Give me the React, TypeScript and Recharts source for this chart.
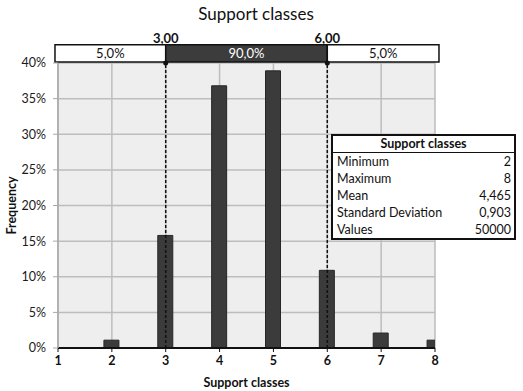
import React from 'react';
import {
  ComposedChart,
  Bar,
  XAxis,
  YAxis,
  CartesianGrid,
  ReferenceLine,
  ReferenceArea,
  ReferenceDot,
} from 'recharts';

// histogram of simulated support classes
const classes = [2, 3, 4, 5, 6, 7, 8];
const frequency = [1.1, 15.8, 36.8, 38.9, 10.9, 2.1, 1.1];

const xTicks = [1, 2, 3, 4, 5, 6, 7, 8];
const yTicks = [0, 5, 10, 15, 20, 25, 30, 35, 40];

// 90% interval markers
const lowerBound = 3;
const upperBound = 6;
const boundLabels = ['3,00', '6,00'];
const shareLabels = ['5,0%', '90,0%', '5,0%'];

// summary statistics
const statNames = ['Minimum', 'Maximum', 'Mean', 'Standard Deviation', 'Values'];
const statValues = ['2', '8', '4,465', '0,903', '50000'];

const data = classes.map((c, i) => ({ x: c, freq: frequency[i] }));

// band above the plot, in axis units
const BAND_LEFT = 0.944;
const BAND_RIGHT = 8.074;
const BAND_BOTTOM = 40.15;
const BAND_TOP = 42.55;
const BOUND_LABEL_Y = 43.5;

const FONT = 'Lato, "Open Sans", sans-serif';

const App: React.FC = () => {
  return (
    <div
      style={{
        position: 'absolute',
        left: 0,
        top: 0,
        width: 523,
        height: 391,
        background: '#fff',
        fontFamily: FONT,
        color: '#111',
      }}
    >
      <div
        style={{
          position: 'absolute',
          left: 0,
          top: 3,
          width: 512,
          textAlign: 'center',
          fontSize: 17,
          lineHeight: '22px',
        }}
      >
        Support classes
      </div>

      <ComposedChart
        width={523}
        height={391}
        data={data}
        margin={{ top: 63, right: 88, bottom: 0, left: 0 }}
        style={{ fontFamily: FONT }}
      >
        <CartesianGrid
          fill="#eeeeee"
          stroke="#bdbdbd"
          strokeWidth={1.5}
          horizontalValues={yTicks}
          verticalValues={xTicks}
        />
        <XAxis
          dataKey="x"
          type="number"
          domain={[1, 8]}
          ticks={xTicks}
          allowDataOverflow
          height={43}
          tickSize={4}
          tickMargin={4}
          axisLine={{ stroke: '#111', strokeWidth: 2 }}
          tickLine={{ stroke: '#111' }}
          tick={{ fill: '#111', fontSize: 12.5, fontWeight: 700 }}
          label={{
            value: 'Support classes',
            position: 'insideBottom',
            offset: 4,
            fill: '#111',
            fontSize: 12.5,
            fontWeight: 700,
          }}
        />
        <YAxis
          type="number"
          domain={[0, 40]}
          ticks={yTicks}
          width={58}
          tickSize={5}
          tickMargin={7}
          tickFormatter={(v: number) => `${v}%`}
          axisLine={{ stroke: '#a8a8a8', strokeWidth: 1.5 }}
          tickLine={{ stroke: '#a8a8a8' }}
          tick={{ fill: '#1a1a1a', fontSize: 12.5 }}
          label={{
            value: 'Frequency',
            angle: -90,
            position: 'insideLeft',
            offset: 12,
            fill: '#111',
            fontSize: 12.5,
            fontWeight: 700,
            style: { textAnchor: 'middle' },
          }}
        />

        <ReferenceArea
          x1={BAND_LEFT}
          x2={lowerBound}
          y1={BAND_BOTTOM}
          y2={BAND_TOP}
          ifOverflow="visible"
          fill="#fff"
          fillOpacity={1}
          stroke="#111"
          strokeWidth={1.5}
          label={{ value: shareLabels[0], position: 'center', fill: '#111', fontSize: 13 }}
        />
        <ReferenceArea
          x1={lowerBound}
          x2={upperBound}
          y1={BAND_BOTTOM}
          y2={BAND_TOP}
          ifOverflow="visible"
          fill="#3c3c3c"
          fillOpacity={1}
          stroke="#111"
          strokeWidth={1.5}
          label={{ value: shareLabels[1], position: 'center', fill: '#fff', fontSize: 13 }}
        />
        <ReferenceArea
          x1={upperBound}
          x2={BAND_RIGHT}
          y1={BAND_BOTTOM}
          y2={BAND_TOP}
          ifOverflow="visible"
          fill="#fff"
          fillOpacity={1}
          stroke="#111"
          strokeWidth={1.5}
          label={{ value: shareLabels[2], position: 'center', fill: '#111', fontSize: 13 }}
        />

        <ReferenceLine x={lowerBound} stroke="#111" strokeWidth={1.5} strokeDasharray="3 2" />
        <ReferenceLine x={upperBound} stroke="#111" strokeWidth={1.5} strokeDasharray="3 2" />

        <Bar
          dataKey="freq"
          barSize={15}
          fill="#3b3b3b"
          stroke="#262626"
          strokeWidth={1}
          isAnimationActive={false}
        />

        <ReferenceDot x={lowerBound} y={40} r={2.5} fill="#111" stroke="none" ifOverflow="visible" />
        <ReferenceDot x={upperBound} y={40} r={2.5} fill="#111" stroke="none" ifOverflow="visible" />
        <ReferenceDot
          x={lowerBound}
          y={BOUND_LABEL_Y}
          r={0}
          stroke="none"
          ifOverflow="visible"
          label={{ value: boundLabels[0], position: 'center', fill: '#111', fontSize: 13, fontWeight: 700 }}
        />
        <ReferenceDot
          x={upperBound}
          y={BOUND_LABEL_Y}
          r={0}
          stroke="none"
          ifOverflow="visible"
          label={{ value: boundLabels[1], position: 'center', fill: '#111', fontSize: 13, fontWeight: 700 }}
        />
      </ComposedChart>

      {/* statistics box */}
      <div
        style={{
          position: 'absolute',
          left: 331,
          top: 134,
          width: 185,
          border: '2px solid #111',
          background: '#fff',
          fontSize: 12.5,
          boxSizing: 'border-box',
        }}
      >
        <div
          style={{
            textAlign: 'center',
            fontWeight: 700,
            height: 16,
            lineHeight: '16px',
            borderBottom: '1.5px solid #111',
          }}
        >
          Support classes
        </div>
        {statNames.map((name, i) => (
          <div
            key={name}
            style={{
              display: 'flex',
              justifyContent: 'space-between',
              height: 17,
              lineHeight: '17px',
              padding: '0 3px 0 4px',
            }}
          >
            <span>{name}</span>
            <span>{statValues[i]}</span>
          </div>
        ))}
      </div>
    </div>
  );
};

export default App;
